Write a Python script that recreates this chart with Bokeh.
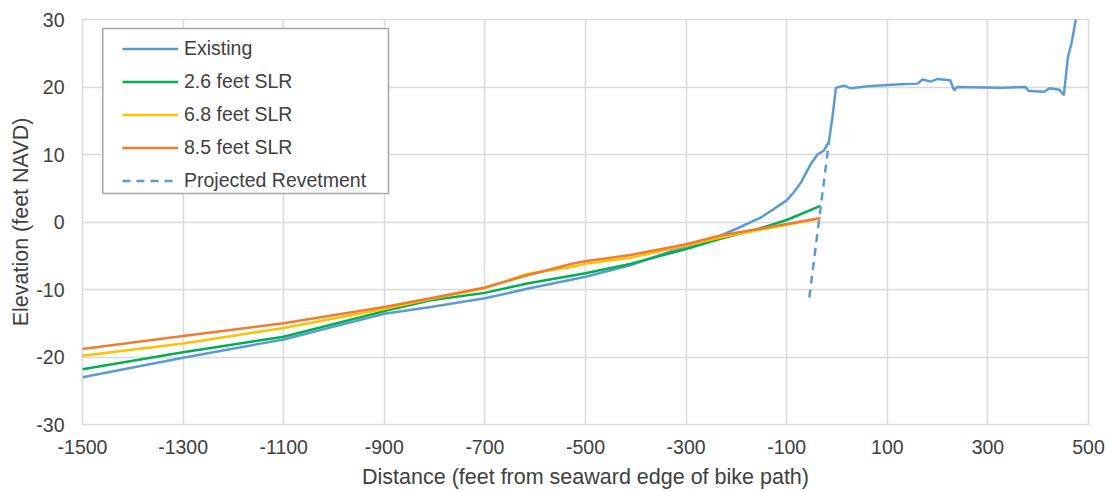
from bokeh.plotting import figure
from bokeh.models import FixedTicker, Legend, LegendItem, Range1d, BoxAnnotation
from bokeh.embed import file_html
from bokeh.resources import INLINE

# Existing profile
existing_x = [-1500, -1300, -1100, -1000, -900, -808, -700, -616, -500, -411, -300, -250, -200,
              -153, -120, -100, -87, -72, -52, -39, -26, -16, -9, -2, 14, 28, 61, 127, 160, 170, 186,
              200, 225, 233, 239, 325, 375, 381, 412, 422, 442, 451, 459, 466, 476]
existing_y = [-23.0, -20.1, -17.4, -15.5, -13.6, -12.6, -11.3, -9.9, -8.1, -6.4, -3.6, -2.6, -1.0,
              0.6, 2.2, 3.2, 4.3, 5.8, 8.6, 10.0, 10.6, 11.9, 15.6, 19.9, 20.2, 19.8, 20.1, 20.4, 20.5, 21.1, 20.8,
              21.2, 21.0, 19.5, 20.0, 19.9, 20.0, 19.4, 19.3, 19.8, 19.6, 18.8, 24.4, 26.4, 30.5]

slr26_x = [-1500, -1300, -1100, -1000, -900, -808, -700, -616, -500, -411, -300, -232, -160, -100, -33]
slr26_y = [-21.8, -19.3, -17.0, -15.1, -13.2, -11.6, -10.5, -9.1, -7.6, -6.2, -4.0, -2.5, -1.1, 0.3, 2.4]

slr68_x = [-1500, -1300, -1100, -900, -808, -700, -616, -523, -500, -411, -300, -232, -100, -33]
slr68_y = [-19.8, -18.0, -15.7, -12.9, -11.4, -9.8, -7.7, -6.6, -6.2, -5.3, -3.5, -2.3, -0.4, 0.5]

slr85_x = [-1500, -1300, -1100, -900, -808, -700, -616, -590, -523, -500, -411, -300, -232, -100, -33]
slr85_y = [-18.8, -16.9, -15.0, -12.6, -11.3, -9.7, -7.9, -7.4, -6.1, -5.8, -4.9, -3.3, -2.0, -0.3, 0.6]

revet_x = [-55, -16]
revet_y = [-11.2, 11.9]

x_ticks = [-1500, -1300, -1100, -900, -700, -500, -300, -100, 100, 300, 500]
y_ticks = [-30, -20, -10, 0, 10, 20, 30]

FONT = "Liberation Sans"
TXT = "#404040"
GRID = "#D9D9D9"

p = figure(width=1109, height=491, output_backend="svg", toolbar_location=None,
           x_range=Range1d(-1500, 500), y_range=Range1d(-30, 30),
           min_border_left=82, min_border_right=21, min_border_top=19, min_border_bottom=67)
p.background_fill_color = "white"
p.border_fill_color = "white"
p.outline_line_color = GRID
p.outline_line_width = 1.5

r_ex = p.line(existing_x, existing_y, line_color="#5B9BD5", line_width=2.5)
r_26 = p.line(slr26_x, slr26_y, line_color="#00B050", line_width=2.5)
r_68 = p.line(slr68_x, slr68_y, line_color="#FFC000", line_width=2.5)
r_85 = p.line(slr85_x, slr85_y, line_color="#ED7D31", line_width=2.5)
r_rv = p.line(revet_x, revet_y, line_color="#5B9BD5", line_width=2.5, line_dash="8 6")

p.xaxis.ticker = FixedTicker(ticks=x_ticks)
p.yaxis.ticker = FixedTicker(ticks=y_ticks)
p.xaxis.major_label_overrides = {v: str(v) for v in x_ticks}
p.yaxis.major_label_overrides = {v: str(v) for v in y_ticks}
for ax in (p.xaxis, p.yaxis):
    ax.axis_line_color = None
    ax.major_tick_line_color = None
    ax.minor_tick_line_color = None
    ax.major_label_text_font = FONT
    ax.major_label_text_font_size = "19.5px"
    ax.major_label_text_color = TXT
    ax.axis_label_text_font = FONT
    ax.axis_label_text_font_size = "21.5px"
    ax.axis_label_text_font_style = "normal"
    ax.axis_label_text_color = TXT
p.xaxis.axis_label = "Distance (feet from seaward edge of bike path)"
p.yaxis.axis_label = "Elevation (feet NAVD)"
p.xaxis.major_label_standoff = 9
p.yaxis.major_label_standoff = 12
p.xaxis.axis_label_standoff = 8
p.yaxis.axis_label_standoff = 0

p.xgrid.ticker = FixedTicker(ticks=x_ticks)
p.ygrid.ticker = FixedTicker(ticks=y_ticks)
p.grid.grid_line_color = GRID
p.grid.grid_line_width = 1.5

# legend frame (white box with grey border), drawn behind the legend entries
legend_box = BoxAnnotation(left=-1459.7, right=-891.7, top=28.67, bottom=4.22,
                           fill_color="white", fill_alpha=1.0,
                           line_color="#A6A6A6", line_width=1.5, line_alpha=1.0)
p.add_layout(legend_box)

legend = Legend(items=[
    LegendItem(label="Existing", renderers=[r_ex]),
    LegendItem(label="2.6 feet SLR", renderers=[r_26]),
    LegendItem(label="6.8 feet SLR", renderers=[r_68]),
    LegendItem(label="8.5 feet SLR", renderers=[r_85]),
    LegendItem(label="Projected Revetment", renderers=[r_rv]),
], location=(40, 232))
legend.label_text_font = FONT
legend.label_text_font_size = "19.5px"
legend.label_text_color = TXT
legend.glyph_width = 56
legend.glyph_height = 23
legend.label_height = 23
legend.spacing = 10
legend.padding = 5
legend.margin = 0
legend.label_standoff = 6
legend.border_line_color = None
legend.background_fill_alpha = 0
p.add_layout(legend, "center")

open("out.html", "w").write(file_html(p, INLINE))
